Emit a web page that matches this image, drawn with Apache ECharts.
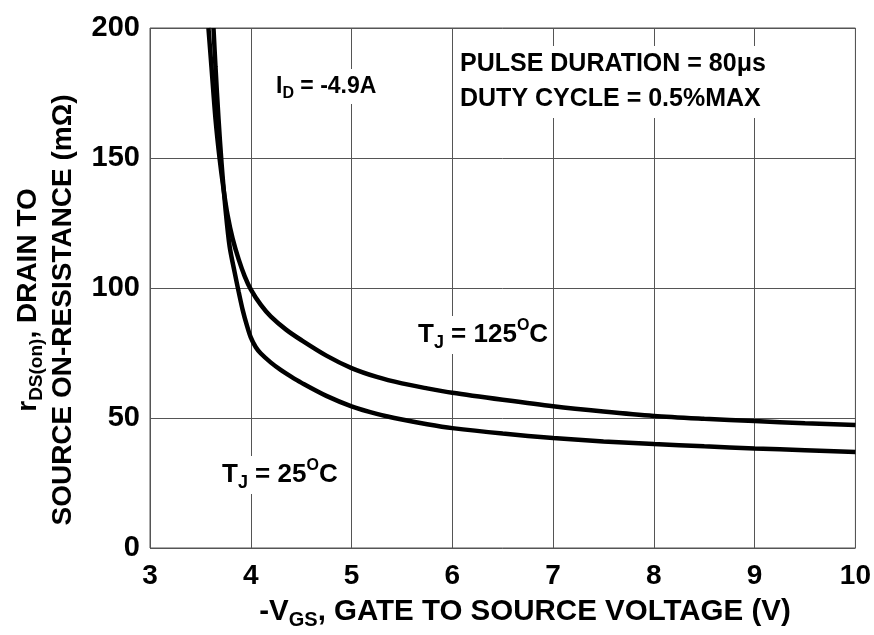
<!DOCTYPE html>
<html>
<head>
<meta charset="utf-8">
<script src="https://cdn.jsdelivr.net/npm/echarts@6/dist/echarts.min.js"></script>
<style>html,body{margin:0;padding:0;background:#fff}#c{width:874px;height:635px}</style>
</head>
<body>
<div id="c"></div>
<script>
// Data
const xTicks = [3, 4, 5, 6, 7, 8, 9, 10];
const yTicks = [0, 50, 100, 150, 200];
const vgs25 =  [3.63, 3.65, 3.68, 3.71, 3.75, 3.79, 3.84, 3.88, 3.92, 3.96, 4.00, 4.05, 4.10, 4.20, 4.30, 4.40, 4.50, 4.75, 5.00, 5.25, 5.50, 5.75, 6.00, 6.50, 7.00, 7.50, 8.00, 8.50, 9.00, 9.50, 10.0];
const r25 =    [200, 185, 165, 148, 130, 116, 106, 98.5, 91.5, 85.8, 81, 77.2, 74.8, 71.3, 68.4, 65.9, 63.6, 58.5, 54.5, 51.6, 49.4, 47.6, 46.1, 44, 42.3, 41, 40, 39.1, 38.3, 37.6, 36.9];
const vgs125 = [3.58, 3.61, 3.65, 3.69, 3.73, 3.77, 3.82, 3.88, 3.94, 4.00, 4.10, 4.20, 4.35, 4.50, 4.75, 5.00, 5.25, 5.50, 5.75, 6.00, 6.50, 7.00, 7.50, 8.00, 8.50, 9.00, 9.50, 10.0];
const r125 =   [200, 185, 165, 150, 138, 128, 119, 111, 104.5, 99.5, 93.5, 89, 84, 80, 74, 69.2, 65.8, 63.3, 61.4, 59.7, 57, 54.5, 52.5, 50.8, 49.7, 48.8, 48, 47.3];

const pair = (xs, ys) => xs.map((x, i) => [x, ys[i]]);
const F = '"Liberation Sans", Arial, sans-serif';
const GRID_COLOR = '#555';

const chart = echarts.init(document.getElementById('c'), null, {renderer: 'canvas'});

function rich(size) {
  return {
    m: {fontSize: size, fontWeight: 'bold', fontFamily: F, color: '#000', lineHeight: size + 8},
    s: {fontSize: Math.round(size * 0.68), fontWeight: 'bold', fontFamily: F, color: '#000', verticalAlign: 'bottom', lineHeight: Math.round(size * 0.68)},
    p: {fontSize: Math.round(size * 0.62), fontWeight: 'bold', fontFamily: F, color: '#000', verticalAlign: 'top', lineHeight: Math.round(size * 0.62)}
  };
}

function label(x, y, text, size) {
  return {
    type: 'text', x: x, y: y, z: 10,
    style: {
      text: text, fontSize: size, fontWeight: 'bold', fontFamily: F, fill: '#000',
      backgroundColor: '#fff', padding: [2, 4], lineHeight: size + 8,
      rich: rich(size)
    }
  };
}

chart.setOption({
  animation: false,
  backgroundColor: '#fff',
  grid: {left: 150, right: 14, top: 28, bottom: 87, show: true, borderColor: GRID_COLOR, borderWidth: 1},
  xAxis: {
    type: 'value', min: xTicks[0], max: xTicks[xTicks.length - 1], interval: 1,
    axisLine: {show: false}, axisTick: {show: false},
    splitLine: {show: true, lineStyle: {color: GRID_COLOR, width: 1}},
    axisLabel: {fontSize: 28, fontWeight: 'bold', fontFamily: F, color: '#000', margin: 14}
  },
  yAxis: {
    type: 'value', min: yTicks[0], max: yTicks[yTicks.length - 1], interval: 50,
    axisLine: {show: false}, axisTick: {show: false},
    splitLine: {show: true, lineStyle: {color: GRID_COLOR, width: 1}},
    axisLabel: {fontSize: 29, fontWeight: 'bold', fontFamily: F, color: '#000', margin: 10}
  },
  series: [
    {type: 'line', data: pair(vgs25, r25), smooth: 0.3, symbol: 'none',
     lineStyle: {color: '#000', width: 4.5}, z: 3},
    {type: 'line', data: pair(vgs125, r125), smooth: 0.3, symbol: 'none',
     lineStyle: {color: '#000', width: 4.5}, z: 3}
  ],
  graphic: [
    label(456, 46, 'PULSE DURATION = 80\u03bcs', 25),
    label(456, 81, 'DUTY CYCLE = 0.5%MAX', 25),
    label(272, 69, '{m|I}{s|D}{m| = -4.9A}', 23),
    label(414, 316, '{m|T}{s|J}{m| = 125}{p|O}{m|C}', 26),
    label(218, 456, '{m|T}{s|J}{m| = 25}{p|O}{m|C}', 26),
    {
      type: 'text', x: 525, y: 612,
      style: {text: '{m|-V}{s|GS}{m|, GATE TO SOURCE VOLTAGE (V)}', align: 'center', verticalAlign: 'middle',
              rich: rich(29.5)}
    },
    {
      type: 'text', x: 28, y: 300, rotation: Math.PI / 2,
      style: {text: '{m|r}{s|DS(on)}{m|, DRAIN TO}', align: 'center', verticalAlign: 'middle',
              rich: rich(28)}
    },
    {
      type: 'text', x: 63, y: 310, rotation: Math.PI / 2,
      style: {text: '{m|SOURCE ON-RESISTANCE (m\u03a9)}', align: 'center', verticalAlign: 'middle',
              rich: rich(28)}
    }
  ]
});
</script>
</body>
</html>
